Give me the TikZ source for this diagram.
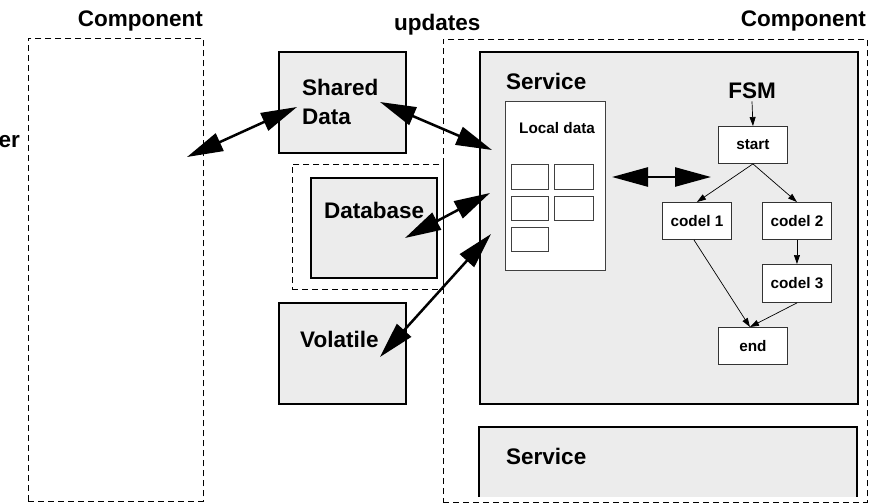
\documentclass[tikz,border=0pt]{standalone}
\usepackage{fontspec}
\setmainfont{Liberation Sans}
\usetikzlibrary{arrows.meta, positioning, calc}
\definecolor{boxgray}{HTML}{ECECEC}
\tikzset{
    comp/.style={draw, dashed, dash pattern=on 6pt off 4pt, line width=0.9pt, inner sep=0pt, anchor=north west},
    store/.style={draw, fill=boxgray, line width=2.2pt, inner sep=0pt, anchor=north west},
    slot/.style={draw=black!75, fill=white, line width=0.8pt, inner sep=0pt, anchor=north west},
    state/.style={draw=black!80, fill=white, line width=0.9pt, inner sep=0pt, anchor=north west, font=\bfseries\fontsize{15.3}{18}\selectfont},
    bigtxt/.style={inner sep=0pt, font=\bfseries\fontsize{22.5}{29}\selectfont},
    smalltxt/.style={inner sep=0pt, font=\bfseries\fontsize{15.3}{18}\selectfont},
    bigarrow/.style={{Triangle[length=36pt,width=19pt]}-{Triangle[length=36pt,width=19pt]}, line width=2.5pt},
    fsmarrow/.style={-{Triangle[length=9pt,width=6pt]}, line width=0.7pt},
}

\begin{document}
\begin{tikzpicture}[x=1pt, y=-1pt]
    \useasboundingbox (0,0) rectangle (870,503);
    % components
    \node[comp, minimum width=175pt, minimum height=463pt] (leftcomp) at (28,38) {};
    \node[comp, minimum width=424pt, minimum height=463pt] (rightcomp) at (443,39) {};
    \node[comp, minimum width=151pt, minimum height=125pt] (dbcomp) at (292,164) {};
    \node[bigtxt, anchor=base east] (leftname) at (203,27) {Component};
    \node[bigtxt, anchor=base east] (rightname) at (866,27) {Component};
    \node[bigtxt, anchor=base west] (upd) at (394,31) {updates};
    \node[bigtxt, anchor=base east] (mgr) at (20,147) {er};
    % stores
    \node[store, minimum width=127pt, minimum height=101pt] (shared) at (278,51) {};
    \node[store, minimum width=126pt, minimum height=100pt] (database) at (310,177) {};
    \node[store, minimum width=127pt, minimum height=101pt] (volatile) at (278,302) {};
    \node[bigtxt, align=left, anchor=north west] (sharedtxt) at (302,79) {Shared\\Data};
    \node[bigtxt, anchor=base west] (dbtxt) at (324,218) {Database};
    \node[bigtxt, anchor=base west] (voltxt) at (300,347) {Volatile};
    % services
    \node[store, minimum width=378pt, minimum height=352pt] (service) at (479,51) {};
    \draw[fill=boxgray, line width=2.2pt] (479,497) -- (479,427) -- (857,427) -- (857,497);
    \node[bigtxt, anchor=base west] (servtxt) at (506,89) {Service};
    \node[bigtxt, anchor=base west] (servtxtb) at (506,464) {Service};
    % local data
    \node[slot, minimum width=100pt, minimum height=169pt] (local) at (505,101) {};
    \node[smalltxt, anchor=base west] (localtxt) at (519,133) {Local data};
    \node[slot, minimum width=37pt, minimum height=25pt] (s1) at (511,164) {};
    \node[slot, minimum width=39pt, minimum height=25pt] (s2) at (554,164) {};
    \node[slot, minimum width=37pt, minimum height=24pt] (s3) at (511,196) {};
    \node[slot, minimum width=39pt, minimum height=24pt] (s4) at (554,196) {};
    \node[slot, minimum width=37pt, minimum height=24pt] (s5) at (511,227) {};
    % FSM
    \node[bigtxt, anchor=base, inner sep=2pt] (fsm) at (752,99) {FSM};
    \node[state, minimum width=69pt, minimum height=37pt] (start) at (718,126) {start};
    \node[state, minimum width=69pt, minimum height=37pt] (codel1) at (662,202) {codel 1};
    \node[state, minimum width=69pt, minimum height=37pt] (codel2) at (762,202) {codel 2};
    \node[state, minimum width=69pt, minimum height=38pt] (codel3) at (762,264) {codel 3};
    \node[state, minimum width=69pt, minimum height=37pt] (end) at (718,327) {end};
    \draw[fsmarrow] (fsm.south) -- (start.north);
    \draw[fsmarrow] (start.south) -- (codel1.north);
    \draw[fsmarrow] (start.south) -- (codel2.north);
    \draw[fsmarrow] (codel2.south) -- (codel3.north);
    \draw[fsmarrow] ($(codel1.south)+(-3,0)$) -- ($(end.north)+(-3,0)$);
    \draw[fsmarrow] (codel3.south) -- ($(end.north)+(-3,0)$);
    % access arrows
    \coordinate (leftin) at (187,157);
    \coordinate (sharedin) at (297,107);
    \coordinate (sharedout) at (380,102);
    \coordinate (servin1) at (492,150);
    \coordinate (dbin) at (405,238);
    \coordinate (servin2) at (490,193);
    \coordinate (volin) at (380,357);
    \coordinate (servin3) at (491,234);
    \coordinate (localout) at (612,177);
    \coordinate (fsmin) at (711,177);
    \draw[bigarrow] (leftin) -- (sharedin);
    \draw[bigarrow] (sharedout) -- (servin1);
    \draw[bigarrow] (dbin) -- (servin2);
    \draw[bigarrow] (volin) -- (servin3);
    \draw[bigarrow] (localout) -- (fsmin);
\end{tikzpicture}
\end{document}
